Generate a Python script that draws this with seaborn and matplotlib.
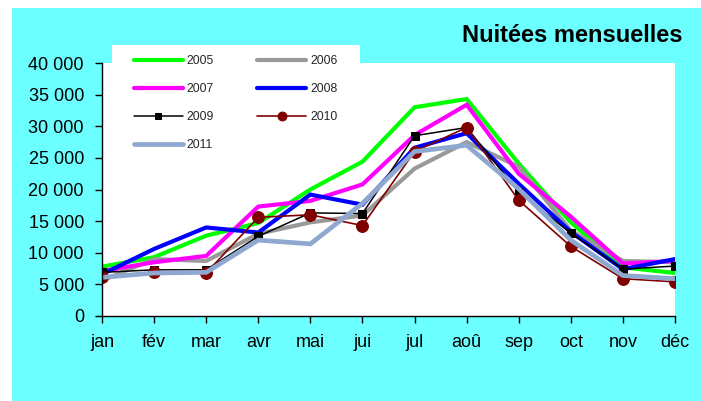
import matplotlib
matplotlib.use("Agg")
import matplotlib.pyplot as plt
import seaborn as sns
import pandas as pd
import numpy as np
from matplotlib.patches import Rectangle
from matplotlib.ticker import FuncFormatter

months = ["jan", "fév", "mar", "avr", "mai", "jui", "jul", "aoû", "sep", "oct", "nov", "déc"]
y2005 = [7800, 9300, 12700, 14700, 20000, 24400, 33000, 34300, 24100, 14800, 7700, 6800]
y2006 = [5600, 9000, 8700, 13000, 14800, 15900, 23300, 27500, 23600, 13500, 8700, 8500]
y2007 = [7100, 8500, 9500, 17300, 18200, 20800, 28600, 33400, 22500, 15700, 8300, 8700]
y2008 = [6600, 10600, 14000, 13200, 19200, 17600, 26600, 28900, 20900, 13300, 7400, 9000]
y2009 = [6900, 7300, 7300, 12600, 16300, 16200, 28500, 29800, 19600, 13100, 7400, 7900]
y2010 = [6100, 6900, 6800, 15600, 16000, 14300, 26000, 29800, 18300, 11000, 5900, 5400]
y2011 = [6100, 6800, 6900, 12000, 11400, 17800, 26000, 27000, 20100, 12000, 6400, 5900]
years = ["2005", "2006", "2007", "2008", "2009", "2010", "2011"]
series = [y2005, y2006, y2007, y2008, y2009, y2010, y2011]
yticks = [0, 5000, 10000, 15000, 20000, 25000, 30000, 35000, 40000]
title = "Nuitées mensuelles"

styles = {
    "2005": dict(color="#00FF00", lw=3.0),
    "2006": dict(color="#999999", lw=3.0),
    "2007": dict(color="#FF00FF", lw=3.0),
    "2008": dict(color="#0000FF", lw=3.0),
    "2009": dict(color="#000000", lw=1.1, marker="s", ms=5.5),
    "2010": dict(color="#800000", lw=1.2, marker="o", ms=8.5),
    "2011": dict(color="#8FA8D0", lw=3.4),
}

sns.set_style("white")
plt.rcParams["font.family"] = ["Liberation Sans", "DejaVu Sans"]

W, H = 701, 401
fig = plt.figure(figsize=(W / 100, H / 100), dpi=100)
fig.patch.set_facecolor("white")
fig.patches.append(Rectangle((12 / W, 0), 1, 1 - 8 / H, transform=fig.transFigure,
                             facecolor="#6CFFFF", edgecolor="none", zorder=-3))
fig.patches.append(Rectangle((112 / W, 1 - 80 / H), (360 - 112) / W, 35 / H,
                             transform=fig.transFigure, facecolor="white",
                             edgecolor="none", zorder=-2))

ax = fig.add_axes([102 / W, (H - 316) / H, (675 - 102) / W, (316 - 63) / H])
ax.set_facecolor("white")

x = np.arange(len(months))
for yr, vals in zip(years, series):
    st = styles[yr]
    kw = dict(color=st["color"], linewidth=st["lw"])
    if "marker" in st:
        kw.update(marker=st["marker"], markersize=st["ms"],
                  markeredgecolor=st["color"], markerfacecolor=st["color"])
    sns.lineplot(x=x, y=vals, ax=ax, label=yr, sort=False, solid_joinstyle="miter", **kw)

ax.set_xlim(0, 11)
ax.set_ylim(0, 40000)
ax.set_xticks(x)
ax.set_xticklabels(months)
ax.set_yticks(yticks)
ax.yaxis.set_major_formatter(FuncFormatter(lambda v, p: f"{int(v):,}".replace(",", " ")))
for s in ["top", "right"]:
    ax.spines[s].set_visible(False)
for s in ["left", "bottom"]:
    ax.spines[s].set_color("black")
    ax.spines[s].set_linewidth(1.0)
ax.tick_params(axis="both", which="major", direction="out", length=5, width=1,
               color="black", labelsize=13, labelcolor="black", left=True, bottom=True)
ax.tick_params(axis="x", pad=8)
ax.tick_params(axis="y", pad=8)
ax.set_xlabel("")
ax.set_ylabel("")

handles, labels = ax.get_legend_handles_labels()
order = [0, 2, 4, 6, 1, 3, 5]
leg = ax.legend([handles[i] for i in order], [labels[i] for i in order],
                loc="upper left", bbox_to_anchor=(134 / W, 1 - 55 / H),
                bbox_transform=fig.transFigure, ncol=2, frameon=False,
                fontsize=8.8, handlelength=4.0, handletextpad=0.33, columnspacing=3.5,
                labelspacing=1.32, borderaxespad=0, borderpad=0, markerscale=0.75)

fig.text(682 / W, 1 - 35 / H, title, ha="right", va="center", fontsize=17,
         fontweight="bold", color="black")

fig.savefig("out.png", dpi=100)
